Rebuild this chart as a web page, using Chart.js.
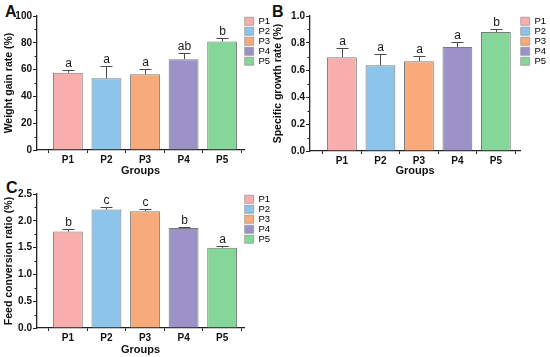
<!DOCTYPE html>
<html>
<head>
<meta charset="utf-8">
<script src="https://cdn.jsdelivr.net/npm/chart.js@4.4.1/dist/chart.umd.min.js"></script>
<style>
  body { margin: 0; width: 550px; height: 357px; background: #fff; position: relative; overflow: hidden; font-family: "Liberation Sans", Arial, sans-serif; }
  canvas { position: absolute; }
  .tag { position: absolute; font-weight: bold; font-size: 16px; line-height: 16px; color: #111; }
</style>
</head>
<body>
<div class="tag" style="left:5px;top:4px">A</div>
<div class="tag" style="left:272px;top:4px">B</div>
<div class="tag" style="left:6px;top:180px">C</div>
<canvas id="chartA" width="280" height="178" style="left:0;top:0"></canvas>
<canvas id="chartB" width="286" height="178" style="left:270px;top:0"></canvas>
<canvas id="chartC" width="280" height="182" style="left:0;top:175px"></canvas>
<script>
// groups and colours
var groups = ['P1', 'P2', 'P3', 'P4', 'P5'];
var barColors = ['#f9aeae', '#8dc4ea', '#f9aa7a', '#9c92c8', '#84d798'];

// A - weight gain rate
var wgrMean = [57.7, 53.5, 56.5, 67.8, 81.0];
var wgrErr = [2.0, 9.5, 3.8, 4.5, 2.7];
var wgrLetters = ['a', 'a', 'a', 'ab', 'b'];

// B - specific growth rate
var sgrMean = [0.695, 0.635, 0.665, 0.770, 0.882];
var sgrErr = [0.070, 0.083, 0.040, 0.037, 0.023];
var sgrLetters = ['a', 'a', 'a', 'a', 'b'];

// C - feed conversion ratio
var fcrMean = [1.80, 2.21, 2.18, 1.865, 1.495];
var fcrErr = [0.040, 0.040, 0.045, 0.017, 0.035];
var fcrLetters = ['b', 'c', 'c', 'b', 'a'];

var FONT = '"Liberation Sans", Arial, sans-serif';

// draws the upper error bar, the letter above it and the small y ticks
var errorBarPlugin = {
  id: 'errorBars',
  afterDatasetsDraw: function(chart) {
    var ds = chart.data.datasets[0];
    var meta = chart.getDatasetMeta(0);
    var y = chart.scales.y;
    var ctx = chart.ctx;
    ctx.save();
    ctx.strokeStyle = '#4a4a4a';
    ctx.lineWidth = 1;
    ctx.fillStyle = '#1a1a1a';
    ctx.font = '12px ' + FONT;
    ctx.textAlign = 'center';
    ctx.textBaseline = 'bottom';
    meta.data.forEach(function(bar, i) {
      var top = Math.round(y.getPixelForValue(ds.means[i] + ds.errors[i])) + 0.5;
      var x = Math.round(bar.x) + 0.5;
      ctx.beginPath();
      ctx.moveTo(x, bar.y);
      ctx.lineTo(x, top);
      ctx.moveTo(x - 6, top);
      ctx.lineTo(x + 6, top);
      ctx.stroke();
      ctx.fillText(ds.letters[i], x, top - 1);
    });
    // minor ticks on y axis
    var ticks = y.ticks;
    var ax = chart.chartArea.left;
    ctx.strokeStyle = '#222';
    for (var k = 0; k < ticks.length - 1; k++) {
      var py = Math.round(y.getPixelForValue((ticks[k].value + ticks[k + 1].value) / 2)) + 0.5;
      ctx.beginPath();
      ctx.moveTo(ax - 2.5, py);
      ctx.lineTo(ax, py);
      ctx.stroke();
    }
    ctx.restore();
  }
};

function makeChart(id, means, errors, letters, yTitle, yMax, step, decimals, cfg) {
  var ctx = document.getElementById(id).getContext('2d');
  return new Chart(ctx, {
    type: 'bar',
    data: {
      datasets: [{
        data: means.map(function(v, i) { return {x: i, y: v}; }),
        means: means,
        errors: errors,
        letters: letters,
        backgroundColor: barColors,
        borderColor: '#7a7a7a',
        borderWidth: 1,
        barPercentage: 0.774,
        categoryPercentage: 1
      }]
    },
    options: {
      responsive: false,
      animation: false,
      layout: { padding: { left: cfg.padLeft, top: cfg.top, right: 0, bottom: 0 } },
      plugins: {
        tooltip: { enabled: false },
        legend: {
          position: 'right',
          align: 'start',
          fullSize: false,
          labels: {
            boxWidth: 9,
            boxHeight: 8,
            padding: 0.5,
            color: '#222',
            font: { family: FONT, size: 9.5 },
            generateLabels: function() {
              return groups.map(function(g, i) {
                return { text: g, fillStyle: barColors[i], strokeStyle: '#999', lineWidth: 0.8, datasetIndex: 0, index: i };
              });
            }
          }
        }
      },
      scales: {
        x: {
          type: 'linear',
          offset: false,
          min: cfg.xMin,
          max: cfg.xMax,
          afterBuildTicks: function(s) { s.ticks = groups.map(function(g, i) { return {value: i}; }); },
          afterFit: function(s) { s.height = cfg.xHeight; },
          ticks: {
            stepSize: 1,
            padding: 1,
            color: '#111',
            font: { family: FONT, size: 10, weight: 'bold' },
            callback: function(v) { return groups[v]; }
          },
          grid: { display: true, drawOnChartArea: false, drawTicks: true, tickLength: 3, color: '#222' },
          border: { display: true, color: '#222', width: 1.3 },
          title: { display: true, text: 'Groups', color: '#111', font: { family: FONT, size: 11, weight: 'bold' }, padding: 0 }
        },
        y: {
          min: 0,
          max: yMax,
          afterFit: function(s) { s.width = cfg.yWidth; },
          ticks: {
            stepSize: step,
            padding: 1,
            color: '#111',
            font: { family: FONT, size: 10, weight: 'bold' },
            callback: function(v) { return v.toFixed(decimals); }
          },
          grid: { display: true, drawOnChartArea: false, drawTicks: true, tickLength: 4, color: '#222' },
          border: { display: true, color: '#222', width: 1.3 },
          title: { display: true, text: yTitle, color: '#111', font: { family: FONT, size: 10.5, weight: 'bold' }, padding: { top: 0, bottom: 2 } }
        }
      }
    },
    plugins: [errorBarPlugin]
  });
}

makeChart('chartA', wgrMean, wgrErr, wgrLetters, 'Weight gain rate (%)', 100, 20, 0,
  { padLeft: 3, top: 16, yWidth: 34, xHeight: 28, xMin: -0.8, xMax: 4.57 });
makeChart('chartB', sgrMean, sgrErr, sgrLetters, 'Specific growth rate (%)', 1.0, 0.2, 1,
  { padLeft: 2, top: 16, yWidth: 38, xHeight: 27, xMin: -0.83, xMax: 4.63 });
makeChart('chartC', fcrMean, fcrErr, fcrLetters, 'Feed conversion ratio (%)', 2.5, 0.5, 1,
  { padLeft: 3, top: 19, yWidth: 34, xHeight: 29, xMin: -0.8, xMax: 4.57 });
</script>
</body>
</html>
